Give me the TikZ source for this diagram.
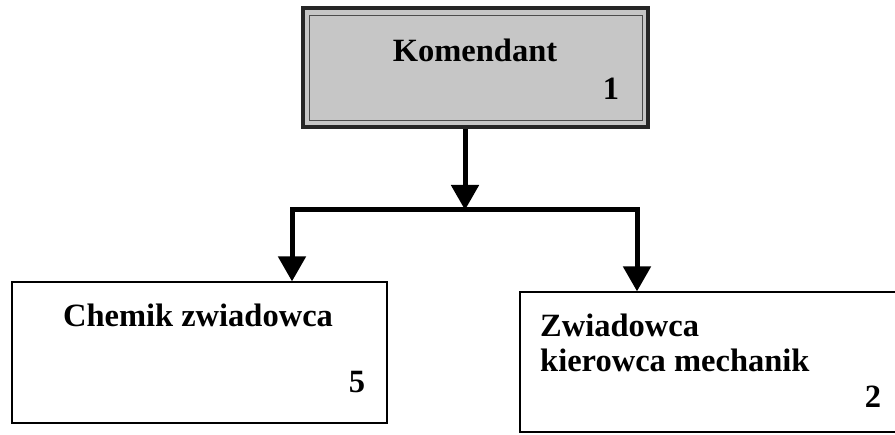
\documentclass[tikz,border=0pt]{standalone}
\usepackage{fontspec}
\setmainfont{Liberation Serif}
\usetikzlibrary{arrows.meta}
\tikzstyle{chief} = [rectangle, minimum width=345pt, minimum height=119pt, draw=black!85, line width=4pt, fill=gray!45]
\tikzstyle{post} = [rectangle, draw=black, line width=1.2pt, fill=white]
\tikzstyle{txt} = [anchor=base, inner sep=0pt]
\tikzstyle{arrow} = [line width=5pt, -{Triangle[width=27pt,length=25pt]}]

\begin{document}
\begin{tikzpicture}[x=1pt, y=-1pt, font=\fontsize{32.5}{36}\selectfont\bfseries]

    \useasboundingbox (0,0) rectangle (895,435);
    \clip (0,0) rectangle (895,435);

    \node (komendant) [chief] at (475.5,67.5) {};
    \draw [thin, black!70] ([shift={(8pt,-9pt)}]komendant.north west) rectangle ([shift={(-8pt,9pt)}]komendant.south east);

    \node (chemik)    [post, minimum width=375pt, minimum height=141pt] at (199.5,352.5) {};
    \node (zwiadowca) [post, minimum width=400pt, minimum height=140pt] at (720,362)     {};

    \node (komtxt)  [txt] at (475,62)  {Komendant};
    \node (num1)    [txt] at (611,100) {1};
    \node (chemtxt) [txt] at (198,327) {Chemik zwiadowca};
    \node (num5)    [txt] at (357,393) {5};
    \node (zwtxt)   [txt, anchor=base west] at (540,337) {Zwiadowca};
    \node (kiertxt) [txt, anchor=base west] at (540,372) {kierowca mechanik};
    \node (num2)    [txt] at (873,408) {2};

    \coordinate (split) at (465,210);

    \draw [arrow] (komendant.south -| split) -- (split);
    \draw [arrow] (split) -| ([xshift=92.5pt]chemik.north);
    \draw [arrow] (split) -| ([xshift=-83pt]zwiadowca.north);

\end{tikzpicture}
\end{document}
